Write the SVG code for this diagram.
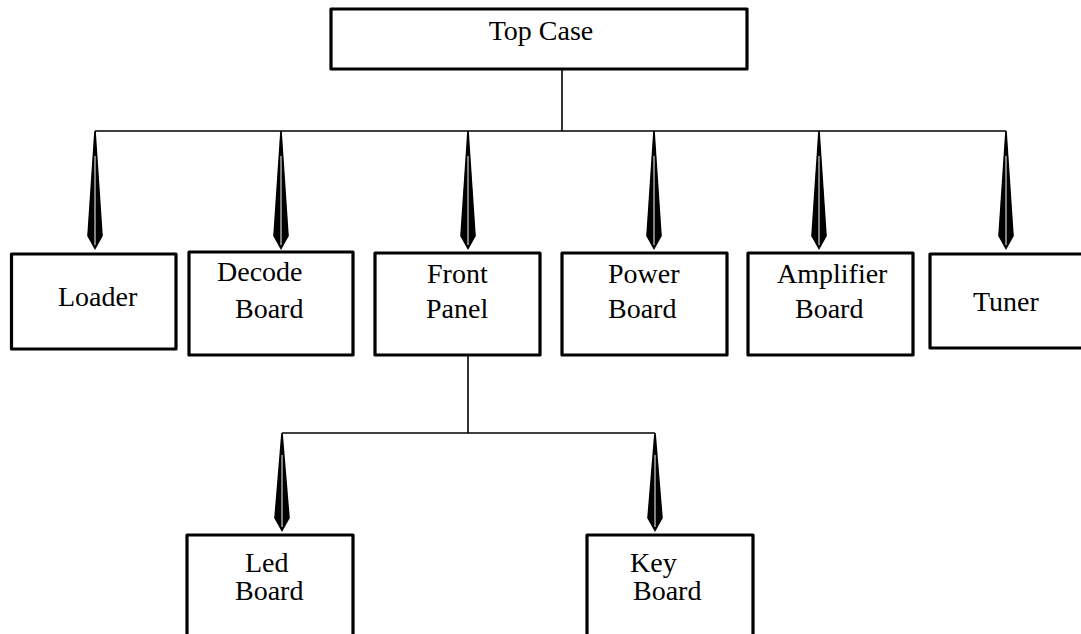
<svg xmlns="http://www.w3.org/2000/svg" width="1081" height="634" viewBox="0 0 1081 634">
<style>
.box{fill:#fff;stroke:#000;stroke-width:3.2;stroke-linejoin:round}
.t{font-family:"Liberation Serif","Times New Roman",serif;font-size:28px;fill:#000}
.ln{stroke:#000;stroke-width:1.6;fill:none}
.ah{fill:#000;stroke:none}
.hl{stroke:#fff;stroke-width:1;fill:none}
</style>
<defs>
<g id="arrowA">
<path class="ah" d="M-0.8,0 L0.8,0 L7.8,105 L0,119 L-7.8,105 Z"/>
<line class="hl" x1="0" y1="25" x2="0" y2="114"/>
</g>
<g id="arrowB">
<path class="ah" d="M-0.8,0 L0.8,0 L7.8,85 L0,99 L-7.8,85 Z"/>
<line class="hl" x1="0" y1="22" x2="0" y2="94"/>
</g>
</defs>
<rect width="1081" height="634" fill="#fff"/>
<g id="connectors">
<line class="ln" x1="562" y1="70" x2="562" y2="131"/>
<line class="ln" x1="95" y1="131" x2="1006" y2="131"/>
<use href="#arrowA" x="95" y="131"/>
<use href="#arrowA" x="281" y="131"/>
<use href="#arrowA" x="468" y="131"/>
<use href="#arrowA" x="654" y="131"/>
<use href="#arrowA" x="819" y="131"/>
<use href="#arrowA" x="1006" y="131"/>
<line class="ln" x1="468" y1="355" x2="468" y2="433"/>
<line class="ln" x1="282" y1="433" x2="655" y2="433"/>
<use href="#arrowB" x="282" y="433"/>
<use href="#arrowB" x="655" y="433"/>
</g>
<g id="top-case">
<rect class="box" x="331" y="9" width="416" height="60"/>
<text class="t" x="541" y="40" text-anchor="middle">Top Case</text>
</g>
<g id="loader">
<rect class="box" x="11.5" y="254" width="164.5" height="95"/>
<text class="t" x="58" y="306">Loader</text>
</g>
<g id="decode-board">
<rect class="box" x="189" y="252" width="164" height="103"/>
<text class="t" x="217" y="281">Decode</text>
<text class="t" x="235" y="318">Board</text>
</g>
<g id="front-panel">
<rect class="box" x="375" y="253" width="165" height="102"/>
<text class="t" x="427" y="283">Front</text>
<text class="t" x="426" y="318">Panel</text>
</g>
<g id="power-board">
<rect class="box" x="562" y="253" width="165" height="102"/>
<text class="t" x="608" y="283">Power</text>
<text class="t" x="608" y="318">Board</text>
</g>
<g id="amplifier-board">
<rect class="box" x="748" y="253" width="165" height="102"/>
<text class="t" x="777" y="283">Amplifier</text>
<text class="t" x="795" y="318">Board</text>
</g>
<g id="tuner">
<rect class="box" x="930" y="254" width="165" height="94"/>
<text class="t" x="973" y="311">Tuner</text>
</g>
<g id="led-board">
<rect class="box" x="187" y="535" width="166" height="110"/>
<text class="t" x="245" y="572">Led</text>
<text class="t" x="235" y="600">Board</text>
</g>
<g id="key-board">
<rect class="box" x="587" y="535" width="166" height="110"/>
<text class="t" x="630" y="572">Key</text>
<text class="t" x="633" y="600">Board</text>
</g>
</svg>
